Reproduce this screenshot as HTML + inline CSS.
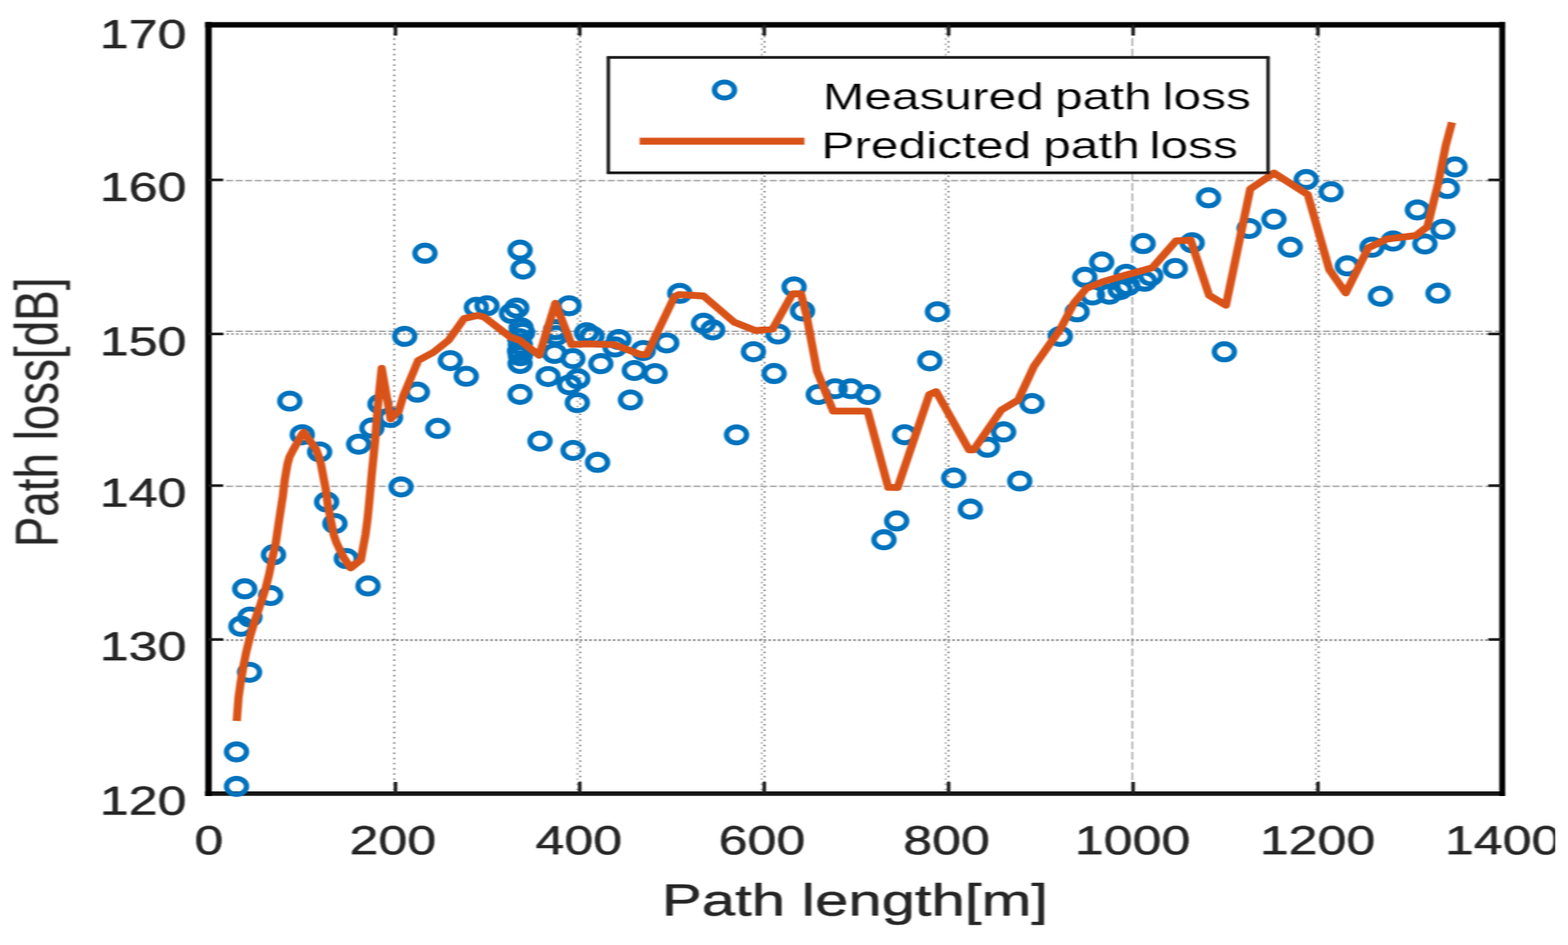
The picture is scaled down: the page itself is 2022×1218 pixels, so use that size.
<!DOCTYPE html>
<html lang="en">
<head>
<meta charset="utf-8">
<title>Measured and predicted path loss versus path length</title>
<style>
html,body{margin:0;padding:0;background:#fff;}
body{width:2022px;height:1218px;overflow:hidden;}
svg{display:block;}
text{font-family:"Liberation Sans",Arial,Helvetica,sans-serif;}
</style>
</head>
<body>
<svg width="2022" height="1218" viewBox="0 0 2022 1218" role="img" aria-label="Path loss versus path length">
<defs><filter id="soft" x="0" y="0" width="2022" height="1218" filterUnits="userSpaceOnUse" color-interpolation-filters="sRGB"><feGaussianBlur stdDeviation="0.8 0.7"/></filter></defs>
<rect x="0" y="0" width="2022" height="1218" fill="#ffffff"/>
<g id="figure" filter="url(#soft)">
<g id="grid" fill="none" stroke="#858585">
<line x1="508.4" y1="36" x2="508.4" y2="1019.8" stroke-width="2.4" stroke-dasharray="2.2 4.47" stroke-dashoffset="0"/>
<line x1="744.6" y1="36" x2="744.6" y2="1019.8" stroke-width="2.2" stroke-dasharray="2.2 4.47" stroke-dashoffset="0" stroke="#a6a6a6"/>
<line x1="748.2" y1="36" x2="748.2" y2="1019.8" stroke-width="2.2" stroke-dasharray="2.2 4.47" stroke-dashoffset="3.33" stroke="#7c7c7c"/>
<line x1="982.3" y1="36" x2="982.3" y2="1019.8" stroke-width="2.2" stroke-dasharray="2.2 4.47" stroke-dashoffset="0" stroke="#a6a6a6"/>
<line x1="985.9" y1="36" x2="985.9" y2="1019.8" stroke-width="2.2" stroke-dasharray="2.2 4.47" stroke-dashoffset="3.33" stroke="#7c7c7c"/>
<line x1="1219.5" y1="36" x2="1219.5" y2="1019.8" stroke-width="2.2" stroke-dasharray="2.2 4.47" stroke-dashoffset="0" stroke="#a6a6a6"/>
<line x1="1223.1" y1="36" x2="1223.1" y2="1019.8" stroke-width="2.2" stroke-dasharray="2.2 4.47" stroke-dashoffset="3.33" stroke="#7c7c7c"/>
<line x1="1696.8" y1="36" x2="1696.8" y2="1019.8" stroke-width="2.2" stroke-dasharray="2.2 4.47" stroke-dashoffset="0" stroke="#a6a6a6"/>
<line x1="1700.4" y1="36" x2="1700.4" y2="1019.8" stroke-width="2.2" stroke-dasharray="2.2 4.47" stroke-dashoffset="3.33" stroke="#7c7c7c"/>
<line x1="1460.2" y1="36" x2="1460.2" y2="1019.8" stroke-width="1.9" stroke-dasharray="9.8 3.53" stroke-dashoffset="0" stroke="#9c9c9c"/>
<line x1="291.5" y1="232.7" x2="1933.2" y2="232.7" stroke-width="2.1" stroke-dasharray="9.2 3.1" stroke-dashoffset="0" stroke="#acacac"/>
<line x1="291.5" y1="626.7" x2="1933.2" y2="626.7" stroke-width="2.1" stroke-dasharray="9.2 3.1" stroke-dashoffset="0" stroke="#acacac"/>
<line x1="291.5" y1="427" x2="1933.2" y2="427" stroke-width="2" stroke-dasharray="9.2 3.1" stroke-dashoffset="0" stroke="#acacac"/>
<line x1="273.9" y1="430.6" x2="1933.2" y2="430.6" stroke-width="2" stroke-dasharray="2.6 3.55" stroke-dashoffset="0" stroke="#7c7c7c"/>
<line x1="273.9" y1="825" x2="1933.2" y2="825" stroke-width="2.3" stroke-dasharray="2.4 3.68" stroke-dashoffset="0" stroke="#6a6a6a"/>
</g>
<g id="axes" stroke="#000000" fill="none">
<line x1="264.4" y1="32" x2="1941.1" y2="32" stroke-width="6.8"/>
<line x1="264.4" y1="1022.8" x2="1941.1" y2="1022.8" stroke-width="5.8" stroke="#161616"/>
<line x1="268.9" y1="28.6" x2="268.9" y2="1025.9" stroke-width="8.4"/>
<line x1="1937.2" y1="28.6" x2="1937.2" y2="1025.9" stroke-width="7.6"/>
</g>
<g id="ticks" stroke="#1c1c1c" fill="none">
<line x1="510" y1="1022.8" x2="510" y2="1007.8" stroke-width="4.6"/>
<line x1="510" y1="32" x2="510" y2="45.8" stroke-width="4.6"/>
<line x1="747.6" y1="1022.8" x2="747.6" y2="1007.8" stroke-width="4.6"/>
<line x1="747.6" y1="32" x2="747.6" y2="45.8" stroke-width="4.6"/>
<line x1="985.6" y1="1022.8" x2="985.6" y2="1007.8" stroke-width="4.6"/>
<line x1="985.6" y1="32" x2="985.6" y2="45.8" stroke-width="4.6"/>
<line x1="1223.3" y1="1022.8" x2="1223.3" y2="1007.8" stroke-width="4.6"/>
<line x1="1223.3" y1="32" x2="1223.3" y2="45.8" stroke-width="4.6"/>
<line x1="1461.2" y1="1022.8" x2="1461.2" y2="1007.8" stroke-width="4.6"/>
<line x1="1461.2" y1="32" x2="1461.2" y2="45.8" stroke-width="4.6"/>
<line x1="1699.6" y1="1022.8" x2="1699.6" y2="1007.8" stroke-width="4.6"/>
<line x1="1699.6" y1="32" x2="1699.6" y2="45.8" stroke-width="4.6"/>
<line x1="268.9" y1="231.9" x2="287.9" y2="231.9" stroke-width="3.4"/>
<line x1="1937.2" y1="231.9" x2="1919.2" y2="231.9" stroke-width="3.4"/>
<line x1="268.9" y1="430.4" x2="287.9" y2="430.4" stroke-width="3.4"/>
<line x1="1937.2" y1="430.4" x2="1919.2" y2="430.4" stroke-width="3.4"/>
<line x1="268.9" y1="625.9" x2="287.9" y2="625.9" stroke-width="3.4"/>
<line x1="1937.2" y1="625.9" x2="1919.2" y2="625.9" stroke-width="3.4"/>
<line x1="268.9" y1="824.2" x2="287.9" y2="824.2" stroke-width="3.4"/>
<line x1="1937.2" y1="824.2" x2="1919.2" y2="824.2" stroke-width="3.4"/>
</g>
<g id="measured" fill="none" stroke="#0072BD" stroke-width="6.4" transform="scale(1.08,1)">
<ellipse cx="282.41" cy="1013.6" rx="11.94" ry="10.4"/>
<ellipse cx="282.41" cy="969.1" rx="11.94" ry="10.4"/>
<ellipse cx="297.96" cy="866.5" rx="11.94" ry="10.4"/>
<ellipse cx="287.69" cy="807.2" rx="11.94" ry="10.4"/>
<ellipse cx="298.43" cy="795.3" rx="11.94" ry="10.4"/>
<ellipse cx="292.22" cy="758.9" rx="11.94" ry="10.4"/>
<ellipse cx="323.15" cy="767.6" rx="11.94" ry="10.4"/>
<ellipse cx="439.44" cy="755.2" rx="11.94" ry="10.4"/>
<ellipse cx="326.57" cy="714.9" rx="11.94" ry="10.4"/>
<ellipse cx="346.02" cy="517" rx="11.94" ry="10.4"/>
<ellipse cx="360.93" cy="560.3" rx="11.94" ry="10.4"/>
<ellipse cx="381.67" cy="582.5" rx="11.94" ry="10.4"/>
<ellipse cx="390" cy="646.9" rx="11.94" ry="10.4"/>
<ellipse cx="399.91" cy="674.8" rx="11.94" ry="10.4"/>
<ellipse cx="413.52" cy="719.9" rx="11.94" ry="10.4"/>
<ellipse cx="428.24" cy="572.5" rx="11.94" ry="10.4"/>
<ellipse cx="444.07" cy="551.7" rx="11.94" ry="10.4"/>
<ellipse cx="453.7" cy="520.8" rx="11.94" ry="10.4"/>
<ellipse cx="466.3" cy="538.1" rx="11.94" ry="10.4"/>
<ellipse cx="478.89" cy="627.6" rx="11.94" ry="10.4"/>
<ellipse cx="498.33" cy="505.4" rx="11.94" ry="10.4"/>
<ellipse cx="522.78" cy="552.2" rx="11.94" ry="10.4"/>
<ellipse cx="537.69" cy="464.8" rx="11.94" ry="10.4"/>
<ellipse cx="556.76" cy="485" rx="11.94" ry="10.4"/>
<ellipse cx="483.24" cy="433.5" rx="11.94" ry="10.4"/>
<ellipse cx="507.41" cy="326.4" rx="11.94" ry="10.4"/>
<ellipse cx="621.02" cy="322.4" rx="11.94" ry="10.4"/>
<ellipse cx="624.63" cy="346.8" rx="11.94" ry="10.4"/>
<ellipse cx="568.8" cy="396.2" rx="11.94" ry="10.4"/>
<ellipse cx="581.48" cy="394.1" rx="11.94" ry="10.4"/>
<ellipse cx="617.04" cy="397.1" rx="11.94" ry="10.4"/>
<ellipse cx="610.74" cy="403.9" rx="11.94" ry="10.4"/>
<ellipse cx="679.44" cy="394.1" rx="11.94" ry="10.4"/>
<ellipse cx="622.22" cy="422.5" rx="11.94" ry="10.4"/>
<ellipse cx="624.07" cy="428.5" rx="11.94" ry="10.4"/>
<ellipse cx="620.37" cy="436.5" rx="11.94" ry="10.4"/>
<ellipse cx="621.3" cy="444.5" rx="11.94" ry="10.4"/>
<ellipse cx="620.37" cy="452.5" rx="11.94" ry="10.4"/>
<ellipse cx="621.3" cy="458.5" rx="11.94" ry="10.4"/>
<ellipse cx="621.02" cy="468.5" rx="11.94" ry="10.4"/>
<ellipse cx="663.33" cy="424.9" rx="11.94" ry="10.4"/>
<ellipse cx="663.89" cy="432.5" rx="11.94" ry="10.4"/>
<ellipse cx="662.22" cy="455.5" rx="11.94" ry="10.4"/>
<ellipse cx="700.37" cy="428.8" rx="11.94" ry="10.4"/>
<ellipse cx="706.85" cy="433.2" rx="11.94" ry="10.4"/>
<ellipse cx="684.07" cy="462.2" rx="11.94" ry="10.4"/>
<ellipse cx="717.41" cy="468.7" rx="11.94" ry="10.4"/>
<ellipse cx="738.98" cy="437.6" rx="11.94" ry="10.4"/>
<ellipse cx="734.35" cy="447.2" rx="11.94" ry="10.4"/>
<ellipse cx="768.06" cy="451.8" rx="11.94" ry="10.4"/>
<ellipse cx="796.11" cy="442" rx="11.94" ry="10.4"/>
<ellipse cx="757.41" cy="477.5" rx="11.94" ry="10.4"/>
<ellipse cx="782.22" cy="481.5" rx="11.94" ry="10.4"/>
<ellipse cx="654.54" cy="485.3" rx="11.94" ry="10.4"/>
<ellipse cx="689.91" cy="488.2" rx="11.94" ry="10.4"/>
<ellipse cx="679.91" cy="496" rx="11.94" ry="10.4"/>
<ellipse cx="620.93" cy="508.3" rx="11.94" ry="10.4"/>
<ellipse cx="752.78" cy="515.5" rx="11.94" ry="10.4"/>
<ellipse cx="689.35" cy="519" rx="11.94" ry="10.4"/>
<ellipse cx="644.81" cy="568.5" rx="11.94" ry="10.4"/>
<ellipse cx="684.26" cy="580.5" rx="11.94" ry="10.4"/>
<ellipse cx="713.52" cy="595.9" rx="11.94" ry="10.4"/>
<ellipse cx="811.67" cy="378.1" rx="11.94" ry="10.4"/>
<ellipse cx="840.09" cy="416.7" rx="11.94" ry="10.4"/>
<ellipse cx="851.02" cy="425.2" rx="11.94" ry="10.4"/>
<ellipse cx="899.63" cy="453.3" rx="11.94" ry="10.4"/>
<ellipse cx="928.89" cy="430.5" rx="11.94" ry="10.4"/>
<ellipse cx="948.15" cy="369.8" rx="11.94" ry="10.4"/>
<ellipse cx="958.24" cy="400.8" rx="11.94" ry="10.4"/>
<ellipse cx="924.35" cy="481.4" rx="11.94" ry="10.4"/>
<ellipse cx="879.44" cy="560.5" rx="11.94" ry="10.4"/>
<ellipse cx="977.04" cy="508.5" rx="11.94" ry="10.4"/>
<ellipse cx="997.22" cy="501" rx="11.94" ry="10.4"/>
<ellipse cx="1016.02" cy="501" rx="11.94" ry="10.4"/>
<ellipse cx="1036.57" cy="508.5" rx="11.94" ry="10.4"/>
<ellipse cx="1119.35" cy="401.8" rx="11.94" ry="10.4"/>
<ellipse cx="1110.28" cy="465.1" rx="11.94" ry="10.4"/>
<ellipse cx="1080.09" cy="560.3" rx="11.94" ry="10.4"/>
<ellipse cx="1179.07" cy="576.4" rx="11.94" ry="10.4"/>
<ellipse cx="1198.33" cy="556.7" rx="11.94" ry="10.4"/>
<ellipse cx="1232.22" cy="520.1" rx="11.94" ry="10.4"/>
<ellipse cx="1138.8" cy="616" rx="11.94" ry="10.4"/>
<ellipse cx="1217.59" cy="620" rx="11.94" ry="10.4"/>
<ellipse cx="1158.61" cy="656.2" rx="11.94" ry="10.4"/>
<ellipse cx="1070.65" cy="671.4" rx="11.94" ry="10.4"/>
<ellipse cx="1055.46" cy="695.7" rx="11.94" ry="10.4"/>
<ellipse cx="1266.02" cy="433.6" rx="11.94" ry="10.4"/>
<ellipse cx="1286.11" cy="401.9" rx="11.94" ry="10.4"/>
<ellipse cx="1295.28" cy="357.4" rx="11.94" ry="10.4"/>
<ellipse cx="1315.46" cy="337.7" rx="11.94" ry="10.4"/>
<ellipse cx="1304.44" cy="380.2" rx="11.94" ry="10.4"/>
<ellipse cx="1324.63" cy="379.2" rx="11.94" ry="10.4"/>
<ellipse cx="1337.41" cy="373.3" rx="11.94" ry="10.4"/>
<ellipse cx="1344.72" cy="353.5" rx="11.94" ry="10.4"/>
<ellipse cx="1346.57" cy="368.3" rx="11.94" ry="10.4"/>
<ellipse cx="1364.91" cy="313.9" rx="11.94" ry="10.4"/>
<ellipse cx="1366.76" cy="362.4" rx="11.94" ry="10.4"/>
<ellipse cx="1374.07" cy="355.5" rx="11.94" ry="10.4"/>
<ellipse cx="1403.33" cy="346" rx="11.94" ry="10.4"/>
<ellipse cx="1423.52" cy="312.9" rx="11.94" ry="10.4"/>
<ellipse cx="1491.48" cy="294.5" rx="11.94" ry="10.4"/>
<ellipse cx="1521.11" cy="282.5" rx="11.94" ry="10.4"/>
<ellipse cx="1540.56" cy="318.6" rx="11.94" ry="10.4"/>
<ellipse cx="1461.94" cy="453.4" rx="11.94" ry="10.4"/>
<ellipse cx="1443.06" cy="254.9" rx="11.94" ry="10.4"/>
<ellipse cx="1559.63" cy="231.4" rx="11.94" ry="10.4"/>
<ellipse cx="1589.35" cy="247.2" rx="11.94" ry="10.4"/>
<ellipse cx="1608.8" cy="342.7" rx="11.94" ry="10.4"/>
<ellipse cx="1638.24" cy="318.7" rx="11.94" ry="10.4"/>
<ellipse cx="1663.43" cy="310.7" rx="11.94" ry="10.4"/>
<ellipse cx="1692.41" cy="270.6" rx="11.94" ry="10.4"/>
<ellipse cx="1701.39" cy="314.5" rx="11.94" ry="10.4"/>
<ellipse cx="1722.87" cy="295.5" rx="11.94" ry="10.4"/>
<ellipse cx="1728.15" cy="242.9" rx="11.94" ry="10.4"/>
<ellipse cx="1737.31" cy="215.2" rx="11.94" ry="10.4"/>
<ellipse cx="1648.33" cy="381.8" rx="11.94" ry="10.4"/>
<ellipse cx="1717.04" cy="377.9" rx="11.94" ry="10.4"/>
</g>
<g id="curve" transform="scale(1.21,1)">
<polyline id="predicted" points="252.31,929.3 254.21,899.1 256.53,879.3 259.26,859.6 262.56,839.8 266.61,820 271.82,798.9 277.52,779.1 282.81,759.3 286.94,739.6 290.17,719.8 293.88,700 297.52,670 301.4,639.5 303.47,618.5 306.28,598.8 308.51,589 312.81,579.1 317.36,569.3 321.98,559.4 323.8,557 330.99,569.3 336.78,579.1 339.92,589 342.15,598.8 345.21,618.5 347.11,630 349.26,649.8 352.4,669.6 355.7,689.3 358.43,699.2 362.4,709.1 366.45,719 373.72,732 384.63,721.5 386.45,709.1 389.5,689.3 391.65,669.6 393.31,649.8 394.79,630 396.36,608.9 398.02,589.1 399.67,569.3 400.91,549.6 402.31,529.8 403.72,510 406.78,474.6 416.36,540 424.96,529.8 429.92,510 445.7,464.6 461.9,454.1 478.26,438.3 494.63,410.6 509.34,406.6 515.87,408.6 543.64,434.3 553.47,438.3 574.71,458 591.9,390.8 609.09,444.2 625.37,443.2 654.79,444.2 682.64,457 689.17,457 718.76,382.5 723.64,379.6 749.83,381.5 782.48,415.2 805.37,426.1 823.39,424.1 844.63,378.6 853.64,378.6 859.34,405.3 870.74,478.5 887.93,529.9 924.71,529.9 946.69,628.2 956.61,628.4 990.33,508.7 997.69,504.7 1032.81,579.9 1037.69,579.9 1067.11,528.5 1085.12,515.6 1102.15,471.7 1130,424.2 1144.71,390.6 1157.77,371.8 1175.79,362.9 1198.6,355 1228.1,345.1 1253.39,310.4 1268.93,309.5 1288.6,380.7 1306.53,393.5 1332.4,243.7 1357.77,223 1393.72,250.7 1416.69,347.5 1434.21,377.6 1458.35,319.3 1478.02,308.2 1508.68,303.7 1521.24,292.2 1532.64,236.8 1540.83,187.4 1547.44,157.7" fill="none" stroke="#D95319" stroke-width="8.8" stroke-linejoin="round" stroke-miterlimit="4" stroke-linecap="butt"/>
</g>
<g id="legend">
<rect x="784.5" y="74" width="850.7" height="148.8" fill="#ffffff" stroke="none"/>
<g stroke="#1a1a1a" fill="none">
<line x1="782.3" y1="74" x2="1637.4" y2="74" stroke-width="3.6"/>
<line x1="782.3" y1="222.8" x2="1637.4" y2="222.8" stroke-width="3.6"/>
<line x1="784.5" y1="74" x2="784.5" y2="222.8" stroke-width="4.4"/>
<line x1="1635.2" y1="74" x2="1635.2" y2="222.8" stroke-width="4.4"/>
</g>
<ellipse transform="scale(1.08,1)" cx="865.09" cy="116" rx="11.94" ry="10.4" fill="none" stroke="#0072BD" stroke-width="6.4"/>
<line x1="824.8" y1="182" x2="1037.4" y2="182" stroke="#D95319" stroke-width="8.8"/>
</g>
<g id="xticklabels">
<text transform="translate(269.4,1100.8) scale(1.3,1)" font-size="51.5" text-anchor="middle" fill="#262626" stroke="#262626" stroke-width="0.6" stroke-linejoin="round">0</text>
<text transform="translate(506.7,1100.8) scale(1.3,1)" font-size="51.5" text-anchor="middle" fill="#262626" stroke="#262626" stroke-width="0.6" stroke-linejoin="round">200</text>
<text transform="translate(746.3,1100.8) scale(1.3,1)" font-size="51.5" text-anchor="middle" fill="#262626" stroke="#262626" stroke-width="0.6" stroke-linejoin="round">400</text>
<text transform="translate(982.6,1100.8) scale(1.3,1)" font-size="51.5" text-anchor="middle" fill="#262626" stroke="#262626" stroke-width="0.6" stroke-linejoin="round">600</text>
<text transform="translate(1220.6,1100.8) scale(1.3,1)" font-size="51.5" text-anchor="middle" fill="#262626" stroke="#262626" stroke-width="0.6" stroke-linejoin="round">800</text>
<text transform="translate(1460.5,1100.8) scale(1.3,1)" font-size="51.5" text-anchor="middle" fill="#262626" stroke="#262626" stroke-width="0.6" stroke-linejoin="round">1000</text>
<text transform="translate(1699.1,1100.8) scale(1.3,1)" font-size="51.5" text-anchor="middle" fill="#262626" stroke="#262626" stroke-width="0.6" stroke-linejoin="round">1200</text>
<text transform="translate(1937.7,1100.8) scale(1.3,1)" font-size="51.5" text-anchor="middle" fill="#262626" stroke="#262626" stroke-width="0.6" stroke-linejoin="round">1400</text>
</g>
<g id="yticklabels">
<text transform="translate(240.5,61.5) scale(1.3,1)" font-size="51.5" text-anchor="end" fill="#262626" stroke="#262626" stroke-width="0.6" stroke-linejoin="round">170</text>
<text transform="translate(240.5,259.3) scale(1.3,1)" font-size="51.5" text-anchor="end" fill="#262626" stroke="#262626" stroke-width="0.6" stroke-linejoin="round">160</text>
<text transform="translate(240.5,458.2) scale(1.3,1)" font-size="51.5" text-anchor="end" fill="#262626" stroke="#262626" stroke-width="0.6" stroke-linejoin="round">150</text>
<text transform="translate(240.5,652.7) scale(1.3,1)" font-size="51.5" text-anchor="end" fill="#262626" stroke="#262626" stroke-width="0.6" stroke-linejoin="round">140</text>
<text transform="translate(240.5,850.9) scale(1.3,1)" font-size="51.5" text-anchor="end" fill="#262626" stroke="#262626" stroke-width="0.6" stroke-linejoin="round">130</text>
<text transform="translate(240.5,1050.4) scale(1.3,1)" font-size="51.5" text-anchor="end" fill="#262626" stroke="#262626" stroke-width="0.6" stroke-linejoin="round">120</text>
</g>
<g id="labels">
<text transform="translate(1102.5,1180.3) scale(1.332,1)" font-size="58" text-anchor="middle" fill="#262626" stroke="#262626" stroke-width="0.6" stroke-linejoin="round">Path length[m]</text>
<text transform="translate(74.8,531.5) rotate(-90) scale(1,1.325)" font-size="59" text-anchor="middle" fill="#262626" stroke="#262626" stroke-width="0.15" stroke-linejoin="round">Path loss[dB]</text>
</g>
<g id="legendtext">
<text transform="translate(1061,141) scale(1.325,1)" font-size="48.4" fill="#000000" stroke="#ffffff" stroke-width="0.25"><tspan x="0">Measured</tspan> <tspan x="225.96">path</tspan> <tspan x="330.57">loss</tspan></text>
<text transform="translate(1059,203.9) scale(1.325,1)" font-size="48.4" fill="#000000" stroke="#ffffff" stroke-width="0.25"><tspan x="0">Predicted</tspan> <tspan x="216">path</tspan> <tspan x="319.4">loss</tspan></text>
</g>
</g>
<rect x="2005.5" y="0" width="16.5" height="1218" fill="#ffffff"/>
</svg>
</body>
</html>
